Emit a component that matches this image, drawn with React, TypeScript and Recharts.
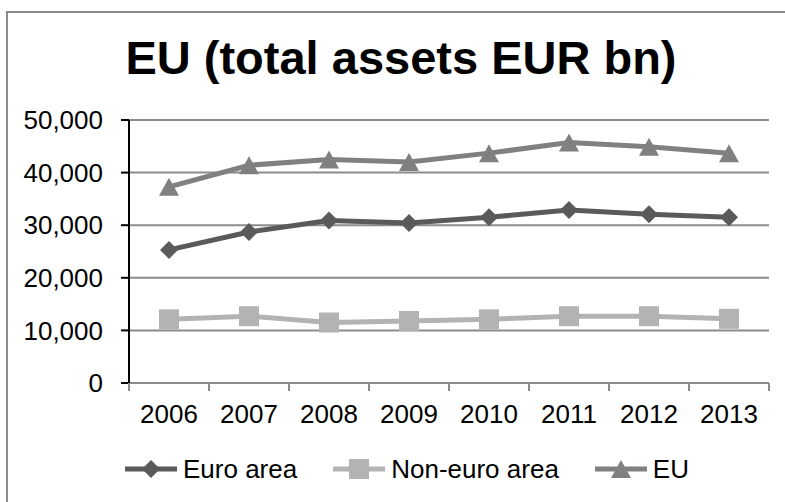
import React from 'react';
import { LineChart, Line, XAxis, YAxis, CartesianGrid, Legend } from 'recharts';

// values (EUR bn)
const years = ['2006', '2007', '2008', '2009', '2010', '2011', '2012', '2013'];
const euroArea = [25300, 28700, 30900, 30400, 31500, 32900, 32100, 31500];
const nonEuroArea = [12100, 12700, 11500, 11800, 12100, 12700, 12700, 12200];
const eu = [37300, 41400, 42500, 42000, 43700, 45700, 44900, 43700];
const yTicks = [0, 10000, 20000, 30000, 40000, 50000];

const data = years.map((year, i) => ({
  year,
  euro: euroArea[i],
  nonEuro: nonEuroArea[i],
  eu: eu[i],
}));

const FONT = 'Arial, "Liberation Sans", sans-serif';
const GRID = '#8c8c8c';
const X_TICK_SIZE = 8;
const X_TICK_MARGIN = 14;

const series = [
  { key: 'euro', name: 'Euro area', color: '#5a5a5a', shape: 'diamond' },
  { key: 'nonEuro', name: 'Non-euro area', color: '#b3b3b3', shape: 'square' },
  { key: 'eu', name: 'EU', color: '#808080', shape: 'triangle' },
];

const Marker = ({ shape, cx, cy, color }: any) => {
  if (shape === 'diamond') {
    const r = 9;
    return <polygon points={`${cx},${cy - r} ${cx + r},${cy} ${cx},${cy + r} ${cx - r},${cy}`} fill={color} />;
  }
  if (shape === 'square') {
    return <rect x={cx - 10} y={cy - 10} width={20} height={20} fill={color} />;
  }
  return <polygon points={`${cx},${cy - 9} ${cx + 10},${cy + 9} ${cx - 10},${cy + 9}`} fill={color} />;
};

// Excel style: labels in the middle of each category, tick marks on the boundaries
const XTick = (props: any) => {
  const { x, y, payload, index, width, visibleTicksCount } = props;
  const band = width / visibleTicksCount;
  const top = y - X_TICK_MARGIN - X_TICK_SIZE;
  return (
    <g>
      <line x1={x - band / 2} x2={x - band / 2} y1={top} y2={top + X_TICK_SIZE} stroke={GRID} strokeWidth={2} />
      {index === visibleTicksCount - 1 && (
        <line x1={x + band / 2} x2={x + band / 2} y1={top} y2={top + X_TICK_SIZE} stroke={GRID} strokeWidth={2} />
      )}
      <text x={x} y={y} dy="0.71em" textAnchor="middle" fontSize={26} fontFamily={FONT} fill="#000">
        {payload.value}
      </text>
    </g>
  );
};

const LegendContent = () => (
  <div style={{ display: 'flex', alignItems: 'center', paddingLeft: 123, height: 30, fontFamily: FONT, fontSize: 26, color: '#000' }}>
    {series.map((s, i) => (
      <div key={s.key} style={{ display: 'flex', alignItems: 'center', marginRight: i < series.length - 1 ? 34 : 0 }}>
        <svg width={56} height={24} style={{ marginRight: 4 }}>
          <line x1={2} x2={54} y1={12} y2={12} stroke={s.color} strokeWidth={5} />
          <Marker shape={s.shape} cx={28} cy={12} color={s.color} />
        </svg>
        <span>{s.name}</span>
      </div>
    ))}
  </div>
);

const App: React.FC = () => {
  return (
    <div style={{ position: 'fixed', left: 0, top: 0, width: 785, height: 502, background: '#fff', overflow: 'hidden' }}>
      <div
        style={{
          position: 'absolute',
          left: 6,
          top: 11,
          width: 800,
          height: 520,
          borderLeft: `2px solid ${GRID}`,
          borderTop: `2px solid ${GRID}`,
        }}
      />
      <div
        style={{
          position: 'absolute',
          left: 0,
          top: 34,
          width: 802,
          textAlign: 'center',
          fontFamily: FONT,
          fontWeight: 'bold',
          fontSize: 47,
          lineHeight: '47px',
          color: '#000',
        }}
      >
        EU (total assets EUR bn)
      </div>
      <div style={{ position: 'absolute', left: 0, top: 0 }}>
        <LineChart width={785} height={502} data={data} margin={{ top: 120, right: 16, left: 0, bottom: 69 }}>
          <CartesianGrid vertical={false} stroke={GRID} strokeWidth={2} />
          <XAxis
            dataKey="year"
            scale="band"
            height={50}
            axisLine={{ stroke: GRID, strokeWidth: 2 }}
            tickLine={false}
            tickSize={X_TICK_SIZE}
            tickMargin={X_TICK_MARGIN}
            tick={<XTick />}
            interval={0}
          />
          <YAxis
            width={129}
            domain={[0, 50000]}
            ticks={yTicks}
            tickFormatter={(v: number) => v.toLocaleString('en-US')}
            axisLine={{ stroke: '#000', strokeWidth: 2 }}
            tickLine={{ stroke: '#000', strokeWidth: 2 }}
            tickSize={8}
            tickMargin={18}
            tick={{ fontSize: 26, fontFamily: FONT, fill: '#000' }}
          />
          <Legend
            layout="horizontal"
            align="center"
            verticalAlign="middle"
            wrapperStyle={{ top: 454, left: 0, width: 785 }}
            content={<LegendContent />}
          />
          {series.map((s) => (
            <Line
              key={s.key}
              type="linear"
              dataKey={s.key}
              name={s.name}
              stroke={s.color}
              strokeWidth={5}
              isAnimationActive={false}
              dot={(p: any) => <Marker key={`${s.key}-${p.index}`} shape={s.shape} cx={p.cx} cy={p.cy} color={s.color} />}
              activeDot={false}
            />
          ))}
        </LineChart>
      </div>
    </div>
  );
};

export default App;
